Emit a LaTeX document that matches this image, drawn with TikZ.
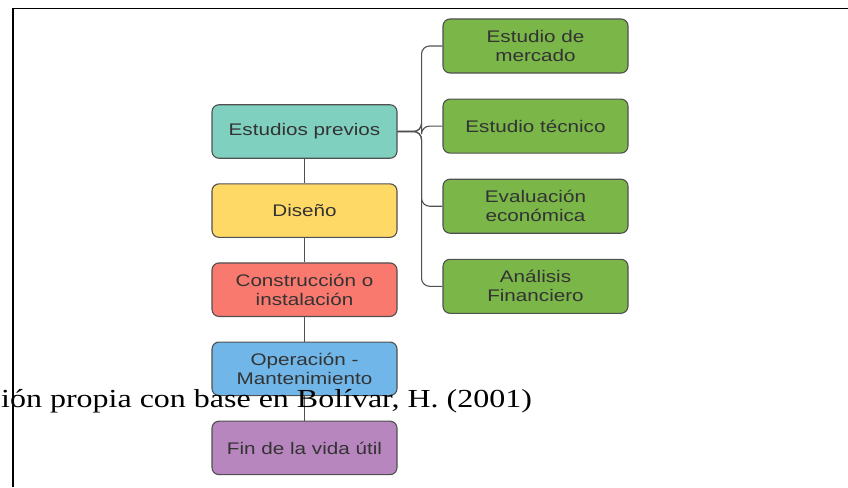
\documentclass[tikz,border=0pt]{standalone}
\usepackage{fontspec}
\setmainfont{Liberation Serif}[FakeStretch=1.23]
\newfontfamily\cajafont{Liberation Sans}[FakeStretch=1.23]
\usetikzlibrary{positioning}
\definecolor{cteal}{RGB}{128,208,192}
\definecolor{camarillo}{RGB}{255,217,102}
\definecolor{crojo}{RGB}{249,121,110}
\definecolor{cazul}{RGB}{112,182,232}
\definecolor{cmorado}{RGB}{183,134,190}
\definecolor{cverde}{RGB}{122,182,72}
\definecolor{cborde}{RGB}{80,80,80}
\definecolor{ctexto}{RGB}{51,51,51}

\begin{document}
\begin{tikzpicture}[x=1pt, y=-1pt,
    etapa/.style={draw=cborde, line width=1.1pt, rounded corners=7pt,
        minimum width=185pt, minimum height=53.5pt, inner sep=0pt,
        align=center, text=ctexto, font=\cajafont\fontsize{16.8}{19}\selectfont},
    estudio/.style={etapa, fill=cverde, minimum height=54pt},
    enlace/.style={draw=cborde, line width=1.1pt}]
    \useasboundingbox (0,0) rectangle (848,487);
    % etapas del proyecto
    \node[etapa, fill=cteal] (previos) at (304.5,131.5) {Estudios previos};
    \node[etapa, fill=camarillo, below=24.5pt of previos] (diseno) {Diseño};
    \node[etapa, fill=crojo, below=24.5pt of diseno] (construccion) {Construcción o\\instalación};
    \node[etapa, fill=cazul, below=24.5pt of construccion] (operacion) {Operación -\\Mantenimiento};
    \node[etapa, fill=cmorado, below=24.5pt of operacion] (fin) {Fin de la vida útil};
    % estudios previos
    \node[estudio] (mercado) at (535.5,46) {Estudio de\\mercado};
    \node[estudio, below=25pt of mercado] (tecnico) {Estudio técnico};
    \node[estudio, below=25pt of tecnico] (evaluacion) {Evaluación\\económica};
    \node[estudio, below=25pt of evaluacion] (analisis) {Análisis\\Financiero};
    \foreach \a/\b in {previos/diseno, diseno/construccion,
        construccion/operacion, operacion/fin}
        \draw[enlace] (\a) -- (\b);
    \coordinate (tronco) at ([xshift=24pt]previos.east);
    \foreach \e in {mercado, tecnico, evaluacion, analisis}
        \draw[enlace, rounded corners=8pt] (previos.east) -- (tronco) |- (\e.west);
    % marco y texto de la pagina
    \draw[line width=2.5pt] (13,487) -- (13,8.5);
    \draw[line width=1.8pt] (11.75,8.5) -- (848,8.5);
    \node[anchor=base west, inner sep=0pt, font=\fontsize{26}{30}\selectfont]
        (fuente) at (1,407) {ión propia con base en Bolívar, H. (2001)};
\end{tikzpicture}
\end{document}
